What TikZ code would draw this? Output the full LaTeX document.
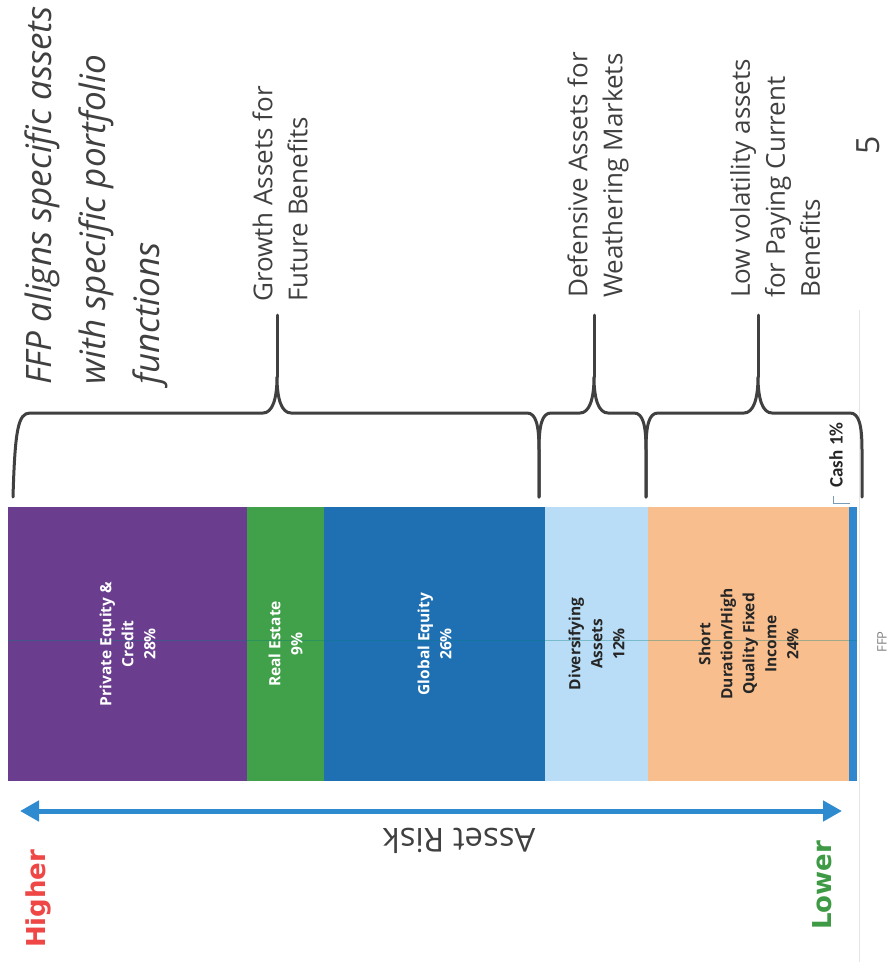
\documentclass[tikz,border=0pt]{standalone}
\usepackage{fontspec}
\setmainfont{Open Sans}
\newfontfamily\boldsans{DejaVu Sans}
\newfontfamily\calsans{Carlito}
\usetikzlibrary{arrows.meta}
\definecolor{txtgray}{HTML}{404040}
\definecolor{pecol}{HTML}{6A3D8E}
\definecolor{recol}{HTML}{41A04A}
\definecolor{gecol}{HTML}{1F70B3}
\definecolor{dacol}{HTML}{B9DDF6}
\definecolor{sdcol}{HTML}{F8BE8D}
\definecolor{cashcol}{HTML}{2E87CF}
\definecolor{arrcol}{HTML}{2E8BD0}
\definecolor{hicol}{HTML}{EF4646}
\definecolor{locol}{HTML}{3E9A45}
\begin{document}
\begin{tikzpicture}[x=1pt,y=-1pt,
  bar/.style={draw=none,inner sep=0pt,outer sep=0pt,anchor=north west},
  barlabel/.style={rotate=90,align=center,font=\fontsize{15.5}{22}\selectfont\bfseries,inner sep=0pt},
  heading/.style={rotate=90,align=left,anchor=west,text=txtgray,inner sep=0pt,font=\fontsize{26}{35}\selectfont},
  bracestyle/.style={draw=txtgray,line width=3pt,line join=round,line cap=round},
  riskarrow/.style={draw=arrcol,line width=5pt,{Triangle[length=19pt,width=20pt]}-{Triangle[length=19pt,width=20pt]}}
]
\useasboundingbox (0,0) rectangle (889,962);
\fill[white] (0,0) rectangle (889,962);
% faint slide edge
\draw[gray!20,line width=0.8pt] (859,310) -- (859,962);
% bars
\node[bar,fill=pecol,minimum width=239pt,minimum height=274pt] (pe) at (8,507) {};
\node[bar,fill=recol,minimum width=77pt,minimum height=274pt] (re) at (247,507) {};
\node[bar,fill=gecol,minimum width=221pt,minimum height=274pt] (ge) at (324,507) {};
\node[bar,fill=dacol,minimum width=103pt,minimum height=274pt] (da) at (545,507) {};
\node[bar,fill=sdcol,minimum width=201pt,minimum height=274pt] (sd) at (648,507) {};
\node[bar,fill=cashcol,minimum width=8pt,minimum height=274pt] (cs) at (849,507) {};
\draw[teal,opacity=0.35,line width=0.6pt] (8,640) -- (857,640);
% bar labels
\node[barlabel,text=white] (pel) at (pe.center) {Private Equity \&\\Credit\\28\%};
\node[barlabel,text=white] (rel) at (re.center) {Real Estate\\9\%};
\node[barlabel,text=white] (gel) at (ge.center) {Global Equity\\26\%};
\node[barlabel,text=black!85] (dal) at (da.center) {Diversifying\\Assets\\12\%};
\node[barlabel,text=black!85] (sdl) at (sd.center) {Short\\Duration/High\\Quality Fixed\\Income\\24\%};
\node[rotate=90,font=\fontsize{19}{22}\calsans\bfseries,text=black!85,inner sep=0pt] (cashl) at (836,455) {Cash 1\%};
\coordinate (ldA) at (833,496);
\coordinate (ldB) at (833,503);
\coordinate (ldC) at (850,503);
\draw[color=black!35!cashcol!60,line width=0.8pt] (ldA) -- (ldB) -- (ldC);
\node[rotate=90,font=\fontsize{13}{15}\selectfont,text=gray,inner sep=0pt] (ffp) at (882,642) {FFP};
% title and headings
\node[heading,font=\fontsize{35}{54}\selectfont\itshape] (title) at (96,385) {FFP aligns specific assets\\with specific portfolio\\functions};
\node[heading] (growth) at (280,302) {Growth Assets for\\Future Benefits};
\node[heading] (defensive) at (598,298) {Defensive Assets for\\Weathering Markets};
\node[heading] (lowvol) at (775,298) {Low volatility assets\\for Paying Current\\Benefits};
\node[rotate=90,font=\fontsize{32}{34}\selectfont,text=txtgray,inner sep=0pt,text height=0.72em,text depth=0pt] (pagenum) at (876,145) {5};
% braces
\draw[bracestyle] (13,497) .. controls (15,430) and (18,413) .. (30,413) -- (263,413)
  .. controls (272,413) and (277,400) .. (277,377) .. controls (277,400) and (282,413) .. (291,413)
  -- (527,413) .. controls (536,413) and (539,425) .. (539,450) -- (539,497);
\draw[bracestyle] (277,377) -- (277,315);
\draw[bracestyle] (539,497) -- (539,450) .. controls (539,425) and (542,413) .. (551,413) -- (580,413)
  .. controls (589,413) and (594,400) .. (594,377) .. controls (594,400) and (599,413) .. (608,413)
  -- (634,413) .. controls (643,413) and (646,425) .. (646,450) -- (646,497);
\draw[bracestyle] (594,377) -- (594,315);
\draw[bracestyle] (646,497) -- (646,450) .. controls (646,425) and (649,413) .. (658,413) -- (744,413)
  .. controls (753,413) and (758,400) .. (758,377) .. controls (758,400) and (763,413) .. (772,413)
  -- (850,413) .. controls (859,413) and (862,425) .. (862,450) -- (862,497);
\draw[bracestyle] (758,377) -- (758,315);
% risk arrow
\coordinate (arrL) at (20,811);
\coordinate (arrR) at (842,811);
\draw[riskarrow] (arrL) -- (arrR);
\node[rotate=180,font=\fontsize{33}{36}\selectfont,text=txtgray,inner sep=0pt] (risk) at (459,841) {Asset Risk};
\node[rotate=90,anchor=west,font=\fontsize{26}{30}\boldsans\bfseries,text=hicol,inner sep=0pt] (higher) at (38,948) {Higher};
\node[rotate=90,anchor=west,font=\fontsize{26}{30}\boldsans\bfseries,text=locol,inner sep=0pt] (lower) at (822,930) {Lower};
\end{tikzpicture}
\end{document}
